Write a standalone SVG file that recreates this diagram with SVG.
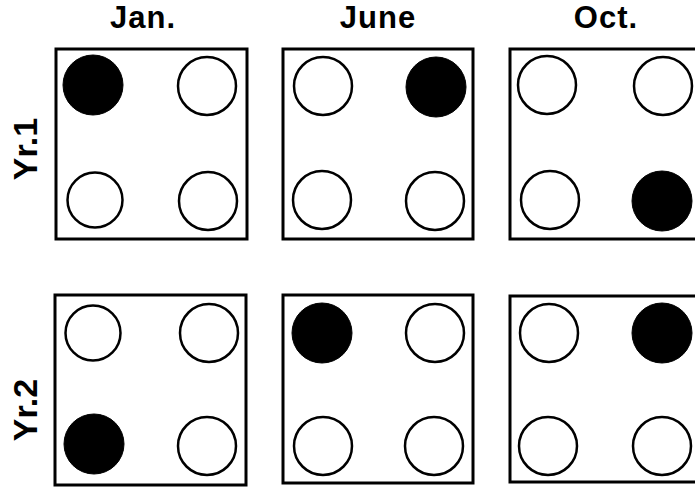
<svg xmlns="http://www.w3.org/2000/svg" width="695" height="489" viewBox="0 0 695 489">
<style>
.box{fill:#fff;stroke:#000;stroke-width:3}
.o{fill:#fff;stroke:#000;stroke-width:2.5}
.f{fill:#000;stroke:#000;stroke-width:1}
.lbl{font-family:"Liberation Sans",Arial,sans-serif;font-weight:bold;font-size:31px;letter-spacing:1px;text-anchor:middle;fill:#000}
.yr{font-family:"Liberation Sans",Arial,sans-serif;font-weight:bold;font-size:34px;text-anchor:middle;fill:#000}
</style>
<rect width="695" height="489" fill="#fff"/>
<g id="labels">
<text class="lbl" x="143" y="28">Jan.</text>
<text class="lbl" x="378" y="28">June</text>
<text class="lbl" x="606" y="28">Oct.</text>
<text class="yr" transform="translate(37,149) rotate(-90)">Yr.1</text>
<text class="yr" transform="translate(37,410) rotate(-90)">Yr.2</text>
</g>
<g id="jan-yr1">
<rect class="box" x="56" y="49" width="191" height="190"/>
<circle class="f" cx="93" cy="85" r="30"/>
<circle class="o" cx="207" cy="86" r="29"/>
<circle class="o" cx="95" cy="200" r="27.5"/>
<circle class="o" cx="208" cy="201" r="29"/>
</g>
<g id="june-yr1">
<rect class="box" x="283" y="49" width="190" height="190"/>
<circle class="o" cx="323" cy="86" r="29"/>
<circle class="f" cx="436" cy="87" r="30"/>
<circle class="o" cx="322" cy="200" r="29"/>
<circle class="o" cx="435" cy="201" r="29"/>
</g>
<g id="oct-yr1">
<rect class="box" x="510" y="49" width="200" height="190"/>
<circle class="o" cx="547" cy="85" r="29"/>
<circle class="o" cx="663" cy="86" r="29"/>
<circle class="o" cx="550" cy="200" r="29"/>
<circle class="f" cx="662" cy="201" r="30"/>
</g>
<g id="jan-yr2">
<rect class="box" x="55" y="295" width="191" height="190"/>
<circle class="o" cx="93" cy="333" r="27.5"/>
<circle class="o" cx="209" cy="333" r="29"/>
<circle class="f" cx="94" cy="444" r="30"/>
<circle class="o" cx="207" cy="446" r="29"/>
</g>
<g id="june-yr2">
<rect class="box" x="283" y="295" width="190" height="188"/>
<circle class="f" cx="322" cy="333" r="30"/>
<circle class="o" cx="435" cy="333" r="29"/>
<circle class="o" cx="323" cy="446" r="29"/>
<circle class="o" cx="434" cy="446" r="29"/>
</g>
<g id="oct-yr2">
<rect class="box" x="510" y="296" width="200" height="186"/>
<circle class="o" cx="549" cy="333" r="29"/>
<circle class="f" cx="662" cy="333" r="30"/>
<circle class="o" cx="548" cy="446" r="29"/>
<circle class="o" cx="662" cy="446" r="29"/>
</g>
<g id="connectors"/>
</svg>
